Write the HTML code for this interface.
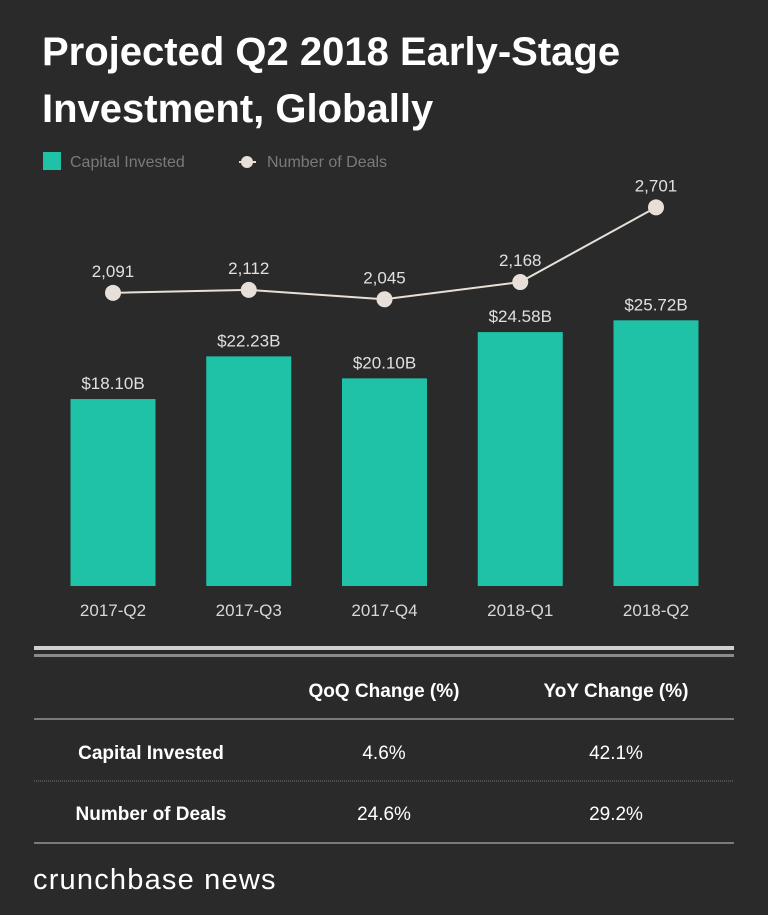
<!DOCTYPE html>
<html><head><meta charset="utf-8"><style>
body{margin:0;background:#2a2a2a;width:768px;height:915px;overflow:hidden;font-family:"Liberation Sans",sans-serif;}
.t{position:absolute;color:#fff}
</style></head><body>
<div class="t" style="left:42px;top:24px;font-size:40px;font-weight:bold;line-height:57px;">Projected Q2 2018 Early-Stage<br>Investment, Globally</div>
<svg width="768" height="915" style="position:absolute;left:0;top:0" id="svg" font-family="Liberation Sans, sans-serif">
<g>
<rect x="43" y="152" width="18" height="18" fill="#1fc2a7"/>
<text x="70" y="167" fill="#7a7a7a" font-size="16">Capital Invested</text>
<line x1="239" y1="162" x2="256" y2="162" stroke="#e8e0d8" stroke-width="2"/>
<circle cx="247" cy="162" r="6" fill="#e8e0d8"/>
<text x="267" y="167" fill="#7a7a7a" font-size="16">Number of Deals</text>
</g>
<g id="bars"></g><g id="line"></g>
<g>
<rect x="34" y="646" width="700" height="4" fill="#cfcfcf"/>
<rect x="34" y="654" width="700" height="3" fill="#8a8a8a"/>
<text x="384" y="697" fill="#fff" font-size="19" font-weight="bold" text-anchor="middle">QoQ Change (%)</text>
<text x="616" y="697" fill="#fff" font-size="19" font-weight="bold" text-anchor="middle">YoY Change (%)</text>
<rect x="34" y="718" width="700" height="2" fill="#7a7a7a"/>
<text x="151" y="759" fill="#fff" font-size="19" font-weight="bold" text-anchor="middle">Capital Invested</text>
<text x="384" y="759" fill="#fff" font-size="19" text-anchor="middle">4.6%</text>
<text x="616" y="759" fill="#fff" font-size="19" text-anchor="middle">42.1%</text>
<line x1="34" y1="781" x2="734" y2="781" stroke="#777" stroke-dasharray="1,1"/>
<text x="151" y="820" fill="#fff" font-size="19" font-weight="bold" text-anchor="middle">Number of Deals</text>
<text x="384" y="820" fill="#fff" font-size="19" text-anchor="middle">24.6%</text>
<text x="616" y="820" fill="#fff" font-size="19" text-anchor="middle">29.2%</text>
<rect x="34" y="842" width="700" height="2" fill="#7a7a7a"/>
</g>
<text x="33" y="889" fill="#fff" font-size="29" letter-spacing="1.2">crunchbase news</text>
</svg>
<script>
const categories=["2017-Q2","2017-Q3","2017-Q4","2018-Q1","2018-Q2"];
const capital=[18.10,22.23,20.10,24.58,25.72];
const deals=[2091,2112,2045,2168,2701];
const NS="http://www.w3.org/2000/svg";
const base=586;
function xC(i){return 113+i*135.75;}
function yBar(v){return base-v*10.33;}
function yLine(v){return base-v*0.1402;}
function mk(t,a,p){const e=document.createElementNS(NS,t);for(const k in a)e.setAttribute(k,a[k]);p.appendChild(e);return e;}
const gb=document.getElementById('bars'),gl=document.getElementById('line');
categories.forEach((c,i)=>{
 const r=mk('rect',{x:xC(i)-42.5,y:yBar(capital[i]),width:85,height:base-yBar(capital[i]),fill:'#1fc2a7'},gb);
 
 
 const l=mk('text',{x:xC(i),y:yBar(capital[i])-10,fill:'#e0e0e0','font-size':17,'text-anchor':'middle'},gb);
 l.textContent='$'+capital[i].toFixed(2)+'B';
 
 
 const x=mk('text',{x:xC(i),y:616,fill:'#d8d8d8','font-size':17,'text-anchor':'middle'},gb);
 x.textContent=c;
 
 
});
const pts=deals.map((v,i)=>xC(i)+','+yLine(v)).join(' ');
const pl=mk('polyline',{points:pts,fill:'none',stroke:'#e8e0d8','stroke-width':2},gl);


deals.forEach((v,i)=>{
 const c=mk('circle',{cx:xC(i),cy:yLine(v),r:8,fill:'#e8e0d8'},gl);
 
 
 const t=mk('text',{x:xC(i),y:yLine(v)-16,fill:'#e0e0e0','font-size':17,'text-anchor':'middle'},gl);
 t.textContent=v.toLocaleString('en-US');
 
 
});
</script>
</body></html>
